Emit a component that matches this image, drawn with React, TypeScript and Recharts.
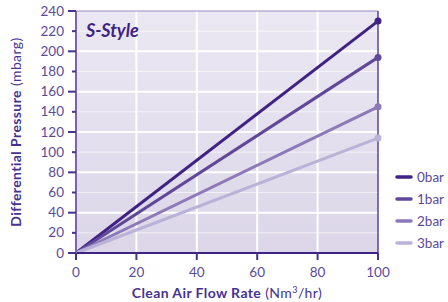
import React from "react";
import { LineChart, Line, XAxis, YAxis, ReferenceArea, ReferenceLine } from "recharts";

const flowRate = [0, 100];
const bar0 = [0, 230];
const bar1 = [0, 194];
const bar2 = [0, 145];
const bar3 = [0, 114];
const yTicks = [0, 20, 40, 60, 80, 100, 120, 140, 160, 180, 200, 220, 240];
const xTicks = [0, 20, 40, 60, 80, 100];

const series = [
  { key: "bar0", name: "0bar", color: "#3f2384" },
  { key: "bar1", name: "1bar", color: "#5f4899" },
  { key: "bar2", name: "2bar", color: "#8c79b8" },
  { key: "bar3", name: "3bar", color: "#bbb2d7" },
];

const data = flowRate.map((x, i) => ({ x, bar0: bar0[i], bar1: bar1[i], bar2: bar2[i], bar3: bar3[i] }));

const FONT = "Lato, 'DejaVu Sans', sans-serif";
const TICK_COLOR = "#5b4a99";
const TITLE_COLOR = "#48328f";

function YTick({ x, y, payload }: any) {
  const major = payload.value % 40 === 0;
  return (
    <g>
      <line x1={x - (major ? 8 : 4)} x2={x} y1={y} y2={y} stroke="#48328f" strokeWidth={2} />
      <text x={x - 12} y={y} dy={4.5} textAnchor="end" fill={TICK_COLOR} fontSize={13.5} fontFamily={FONT}>
        {payload.value}
      </text>
    </g>
  );
}

function XTick({ x, y, payload }: any) {
  return (
    <g>
      <line x1={x} x2={x} y1={y} y2={y + 7} stroke="#48328f" strokeWidth={2} />
      <text x={x} y={y + 24} textAnchor="middle" fill={TICK_COLOR} fontSize={13.5} fontFamily={FONT}>
        {payload.value}
      </text>
    </g>
  );
}

function EndDot(color: string) {
  return (props: any) => {
    const { cx, cy, index } = props;
    if (index !== data.length - 1) return <g key={index} />;
    return <circle key={index} cx={cx} cy={cy} r={3.5} fill={color} />;
  };
}

function LegendBox() {
  return (
    <div style={{ position: "absolute", left: 394, top: 166, fontFamily: FONT }}>
      {series.map((s) => (
        <div key={s.key} style={{ display: "flex", alignItems: "center", height: 22 }}>
          <svg width={23} height={10}>
            <line x1={3} x2={17} y1={5} y2={5} stroke={s.color} strokeWidth={3.5} strokeLinecap="round" />
          </svg>
          <span style={{ color: TICK_COLOR, fontSize: 13.5, whiteSpace: "nowrap" }}>{s.name}</span>
        </div>
      ))}
    </div>
  );
}

export default function App() {
  return (
    <div style={{ position: "absolute", left: 0, top: 0, width: 448, height: 302, overflow: "hidden", background: "#fff" }}>
      <LineChart width={448} height={302} data={data} margin={{ top: 11, right: 70, bottom: 19, left: 30 }}>
        <defs>
          <linearGradient id="bg" x1="0" y1="0" x2="0" y2="1">
            <stop offset="0%" stopColor="#ebe8f3" />
            <stop offset="100%" stopColor="#dcd6e8" />
          </linearGradient>
        </defs>
        <XAxis
          dataKey="x"
          type="number"
          domain={[0, 100]}
          ticks={xTicks}
          tick={<XTick />}
          tickSize={0}
          tickMargin={0}
          tickLine={false}
          height={30}
          interval={0}
          axisLine={{ stroke: "#3f2384", strokeWidth: 2 }}
        />
        <YAxis
          type="number"
          domain={[0, 240]}
          ticks={yTicks}
          tick={<YTick />}
          tickSize={0}
          tickMargin={0}
          tickLine={false}
          width={46}
          interval={0}
          axisLine={{ stroke: "#7a64b0", strokeWidth: 2 }}
        />
        <ReferenceArea x1={0} x2={100} y1={0} y2={240} fill="url(#bg)" fillOpacity={1} stroke="none" ifOverflow="visible" />
        {yTicks.filter((v) => v > 0 && v < 240).map((v) => (
          <ReferenceLine
            key={"y" + v}
            y={v}
            stroke="#ffffff"
            strokeWidth={v % 40 === 0 ? 2 : 1}
            strokeOpacity={v % 40 === 0 ? 1 : 0.6}
          />
        ))}
        {xTicks.filter((v) => v > 0 && v < 100).map((v) => (
          <ReferenceLine key={"x" + v} x={v} stroke="#ffffff" strokeWidth={2} />
        ))}
        <ReferenceLine y={240} stroke="#9a8cc4" strokeWidth={1} />
        <ReferenceLine x={100} stroke="#5a4496" strokeWidth={1.5} />
        {series.map((s) => (
          <Line
            key={s.key}
            dataKey={s.key}
            name={s.name}
            stroke={s.color}
            strokeWidth={3}
            dot={EndDot(s.color)}
            activeDot={false}
            isAnimationActive={false}
          />
        ))}
        <text
          x={21}
          y={132}
          transform="rotate(-90 21 132)"
          textAnchor="middle"
          fill={TITLE_COLOR}
          fontSize={14}
          letterSpacing={0.4}
          fontFamily={FONT}
        >
          <tspan fontWeight={700}>Differential Pressure</tspan>
          <tspan> (mbarg)</tspan>
        </text>
        <text x={227} y={298} textAnchor="middle" fill={TITLE_COLOR} fontSize={14} letterSpacing={0.4} fontFamily={FONT}>
          <tspan fontWeight={700}>Clean Air Flow Rate</tspan>
          <tspan> (Nm</tspan>
          <tspan fontSize={9} dy={-5}>3</tspan>
          <tspan dy={5}>/hr)</tspan>
        </text>
      </LineChart>
      <div
        style={{
          position: "absolute",
          left: 86,
          top: 19,
          color: "#3f2384",
          fontSize: 18,
          fontWeight: 700,
          fontStyle: "italic",
          fontFamily: FONT,
          lineHeight: "22px",
        }}
      >
        S-Style
      </div>
      <LegendBox />
    </div>
  );
}
